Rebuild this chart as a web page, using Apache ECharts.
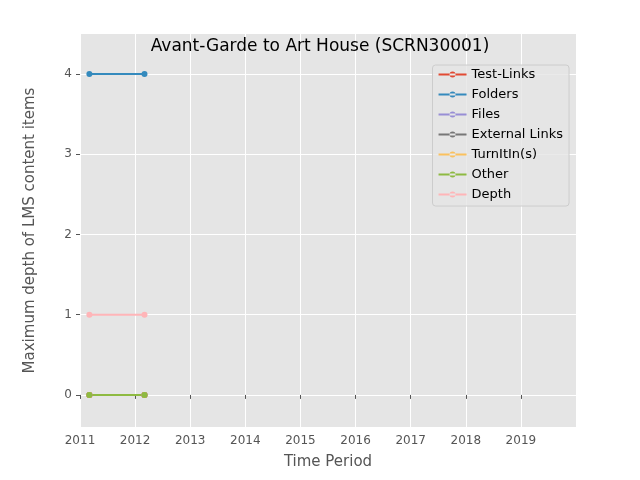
<!DOCTYPE html>
<html><head><meta charset="utf-8">
<script src="https://cdn.jsdelivr.net/npm/echarts@6/dist/echarts.min.js"></script>
<style>html,body{margin:0;padding:0;background:#fff}#c{width:640px;height:480px}</style>
</head><body><div id="c"></div>
<script>
const xDates = [2011.17, 2012.17];
const seriesNames = ['Test-Links','Folders','Files','External Links','TurnItIn(s)','Other','Depth'];
const seriesValues = [[0,0],[4,4],[0,0],[0,0],[0,0],[0,0],[1,1]];
const colors = ['#E24A33','#348ABD','#988ED5','#777777','#FBC15E','#8EBA42','#FFB5B8'];
const yTicks = [0,1,2,3,4];
const font = 'DejaVu Sans';
const chart = echarts.init(document.getElementById('c'));
const series = seriesNames.map((n,i)=>({
  name:n, type:'line', data:xDates.map((x,j)=>[x,seriesValues[i][j]]),
  symbol:'circle', symbolSize:6, lineStyle:{width:2,color:colors[i]}, itemStyle:{color:colors[i]},
  z:10, zlevel:1
}));
series.unshift({type:'line',data:[],silent:true,z:0,zlevel:0,markLine:{silent:true,symbol:'none',label:{show:false},z:0,
  lineStyle:{color:'#fff',width:1,type:'solid'},data:yTicks.map(v=>({yAxis:v}))}});
chart.setOption({
  animation:false,
  color:colors,
  title:{text:'Avant-Garde to Art House (SCRN30001)',left:'center',top:33,textStyle:{fontFamily:font,fontSize:17,fontWeight:'normal',color:'#000'}},
  grid:{left:80,right:64,top:34,bottom:53,show:true,backgroundColor:'#E5E5E5',borderWidth:0},
  legend:{orient:'vertical',right:71,top:65,itemGap:7,itemWidth:28,itemHeight:14,padding:[3,6,5,6],zlevel:2,
    backgroundColor:'rgba(229,229,229,0.8)',borderColor:'#ccc',borderWidth:1,borderRadius:3,
    itemStyle:{borderWidth:0},
    data:seriesNames.map(n=>({name:n,icon:'path://M0,6 L28,6 L28,8 L0,8 Z M11,7 A3,3 0 1,0 17,7 A3,3 0 1,0 11,7 Z'})),
    textStyle:{fontFamily:font,fontSize:13,color:'#000'}},
  xAxis:{type:'value',min:2011,max:2020,interval:1,name:'Time Period',nameLocation:'middle',nameGap:28,
    nameTextStyle:{fontFamily:font,fontSize:15,color:'#555'},
    axisLine:{show:false},axisTick:{show:true,length:4,lineStyle:{color:'#555'}},
    axisLabel:{fontFamily:font,fontSize:12,color:'#555',formatter:v=>v>=2020?'':String(v),showMaxLabel:false},
    splitLine:{show:true,lineStyle:{color:'#fff',width:1}}},
  yAxis:{type:'value',min:-0.4,max:4.5,name:'Maximum depth of LMS content items',nameLocation:'middle',nameGap:42,
    nameTextStyle:{fontFamily:font,fontSize:15,color:'#555'},
    axisLine:{show:false},
    axisTick:{show:true,length:4,lineStyle:{color:'#555'},customValues:yTicks},
    axisLabel:{fontFamily:font,fontSize:12,color:'#555',customValues:yTicks,formatter:v=>String(v)},
    splitLine:{show:false}},
  series:series
});
</script></body></html>
